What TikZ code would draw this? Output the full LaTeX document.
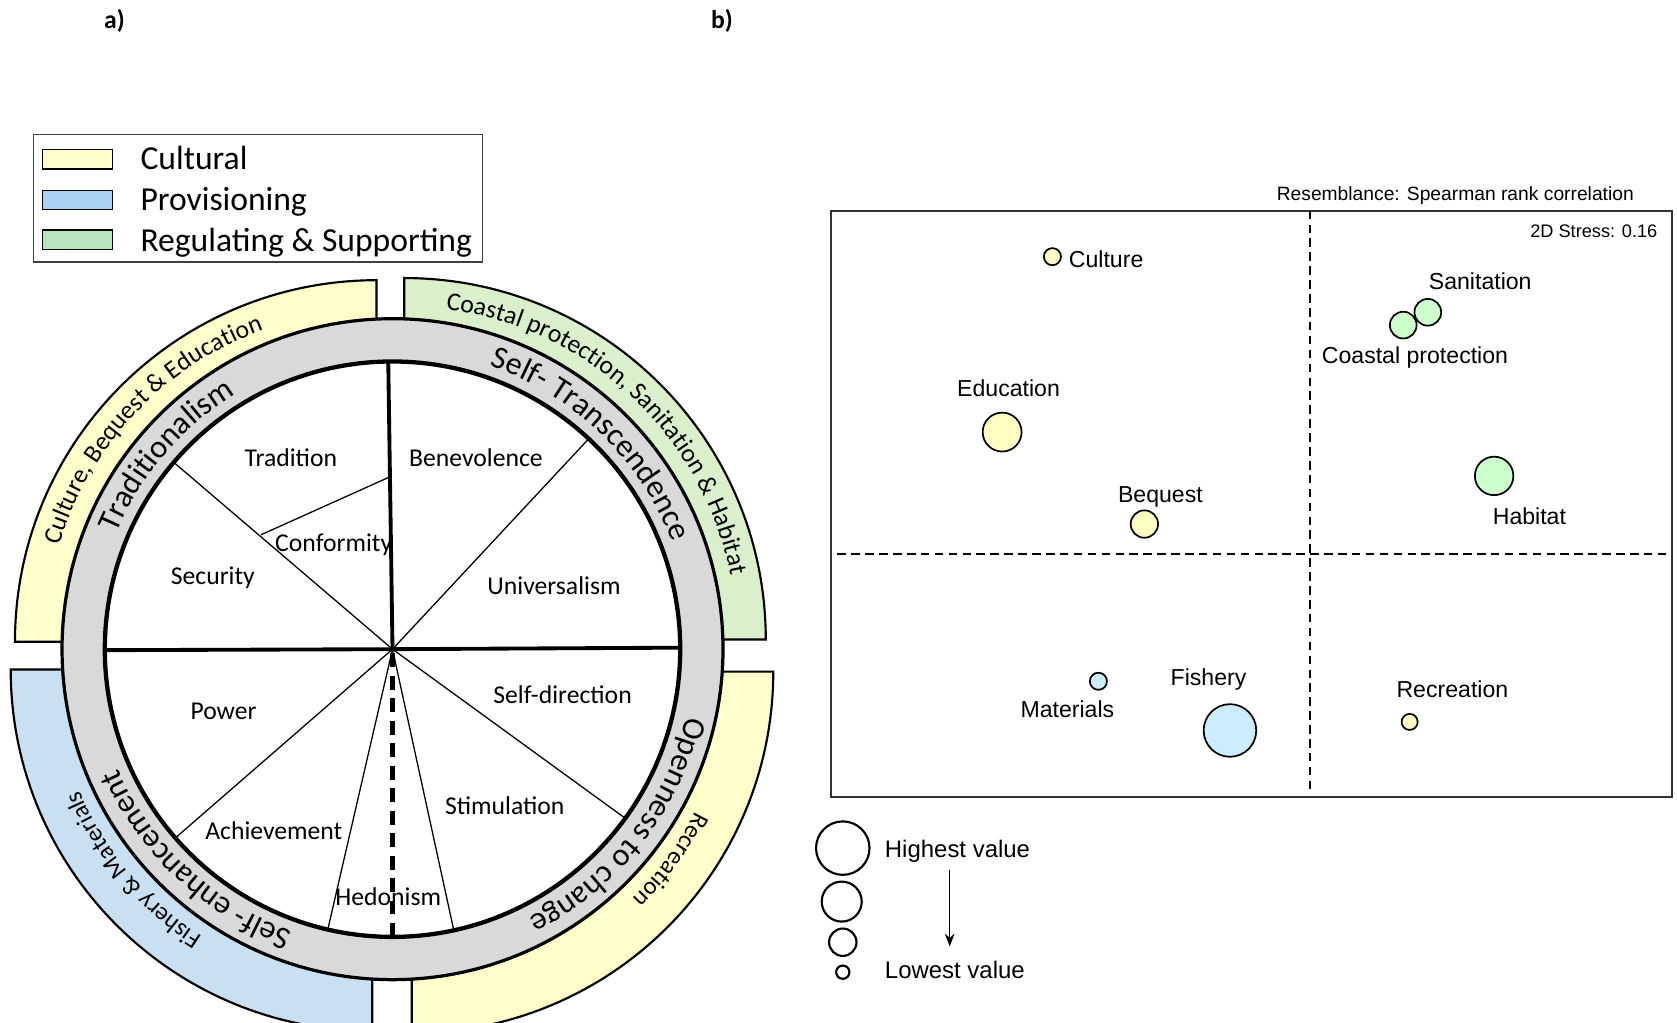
\documentclass[tikz,border=0pt]{standalone}
\usepackage{fontspec}
\setmainfont{Carlito}
\newfontfamily\plotfont{Liberation Sans}
\usepackage{xcolor}
\usepackage{tikz}
\usetikzlibrary{arrows.meta,decorations.text,positioning}
\definecolor{cultfill}{HTML}{FFFFCC}
\definecolor{provfill}{HTML}{A9D2F5}
\definecolor{regfill}{HTML}{B6E5BE}
\definecolor{provband}{HTML}{C9DFF2}
\definecolor{regband}{HTML}{DAF0CC}
\definecolor{ringgray}{HTML}{D9D9D9}
\definecolor{cultdot}{HTML}{FFFFC4}
\definecolor{regdot}{HTML}{CCFFCC}
\definecolor{provdot}{HTML}{CCECFF}
\newcommand{\ringfont}{\fontsize{15}{18}\selectfont}
\newcommand{\bandfont}{\fontsize{12}{14}\selectfont}
\newcommand{\lowbandfont}{\fontsize{11.5}{14}\selectfont}

\tikzset{
  band/.style={draw=black, line width=1pt},
  spoke/.style={line width=0.6pt},
  mainspoke/.style={line width=1.8pt},
  valtext/.style={font=\fontsize{12}{14}\selectfont, inner sep=0pt},
  legtext/.style={font=\fontsize{15.7}{18}\selectfont, anchor=west, inner sep=0pt},
  arctext/.style={decorate, decoration={text along path, text align=center, text={#1}}},
  dot/.style={circle, draw=black, line width=0.8pt, inner sep=0pt},
  ptlabel/.style={font=\plotfont\fontsize{10.8}{13}\selectfont, inner sep=0pt},
  quad/.style={dash pattern=on 4pt off 2.5pt, line width=1pt}
}

\begin{document}
\begin{tikzpicture}[x=0.5pt,y=0.5pt]
\useasboundingbox (0,0) rectangle (1568,956);
\clip (0,0) rectangle (1568,956);

%========================
% panel letters
%========================
\node[font=\bfseries\fontsize{12}{14}\selectfont] (pa) at (107,936) {a)};
\node[font=\bfseries\fontsize{12}{14}\selectfont] (pb) at (675,936) {b)};

%========================
% legend
%========================
\draw[draw=black!75, line width=0.6pt] (31,830) rectangle (451,711);
\foreach \y/\col in {807/cultfill, 769/provfill, 732/regfill}
{
    \draw[fill=\col, line width=0.6pt] (40,\y+9) rectangle (105,\y-9);
}
\node[legtext] (legcult) at (131,808) {Cultural};
\node[legtext] (legprov) at (131,767) {Provisioning};
\node[legtext] (legreg) at (131,729) {Regulating \& Supporting};

%========================
% service bands
%========================
\coordinate (W) at (367,349);
\coordinate (TL) at (352,356);
\coordinate (TR) at (378,358);
\coordinate (BL) at (348,330);
\coordinate (BR) at (385,328);

\foreach \c/\a/\col in {TL/90/cultfill, TR/0/regband, BL/180/provband, BR/270/cultfill}
{
    \filldraw[band, fill=\col] (\c) ++(\a:280) -- ++(\a:58)
    arc[start angle=\a, delta angle=90, radius=338]
    -- ++({\a+270}:58)
    arc[start angle=\a+90, delta angle=-90, radius=280] -- cycle;
}

%========================
% ring and wheel
%========================
\filldraw[fill=ringgray, line width=1.5pt] (W) circle (309);
\filldraw[fill=white, line width=2pt] (W) circle (269);

% thin spokes
\foreach \a in {139.5,47,-36,-77.7,-103,221}
{
    \draw[spoke] (W) -- ++(\a:268);
}
\path (W) ++(139:163) coordinate (confa);
\path (W) ++(91:161) coordinate (confb);
\draw[spoke] (confa) -- (confb);

% thick spokes
\draw[mainspoke] (W) -- ++(90.85:268);
\draw[mainspoke] (W) -- ++(180.2:269);
\draw[mainspoke] (W) -- ++(0.3:268);
\draw[line width=2pt, dash pattern=on 6.5pt off 4pt] (W) ++(0,-4) -- ++(0,-264);

% values
\node[valtext] (tradition) at (272,528) {Tradition};
\node[valtext] (benevolence) at (445,528) {Benevolence};
\node[valtext] (conformity) at (312,447) {Conformity};
\node[valtext] (security) at (199,416) {Security};
\node[valtext] (universalism) at (518,408) {Universalism};
\node[valtext] (power) at (209,291) {Power};
\node[valtext] (selfdir) at (526,306) {Self-direction};
\node[valtext] (achievement) at (256,179) {Achievement};
\node[valtext] (stimulation) at (472,203) {Stimulation};
\node[valtext] (hedonism) at (363,118) {Hedonism};

% ring labels
\path[arctext={|\ringfont|Traditionalism}] (W) ++(184.5:280) arc[start angle=184.5, delta angle=-90, radius=280];
\path[arctext={|\ringfont|Self- Transcendence}] (W) ++(91:280) arc[start angle=91, delta angle=-90, radius=280];
\path[arctext={|\ringfont|Self- enhancement}] (W) ++(272:280) arc[start angle=272, delta angle=-90, radius=280];
\path[arctext={|\ringfont|Openness to change}] (W) ++(7:282) arc[start angle=7, delta angle=-90, radius=282];

% band labels
\path[arctext={|\bandfont|Culture, Bequest {\&} Education}] (TL) ++(181.5:310) arc[start angle=181.5, delta angle=-90, radius=310];
\path[arctext={|\bandfont|Coastal protection, Sanitation {\&} Habitat}] (TR) ++(92:311) arc[start angle=92, delta angle=-90, radius=311];
\path[arctext={|\lowbandfont|Fishery {\&} Materials}] (BL) ++(265:296) arc[start angle=265, delta angle=-90, radius=296];
\path[arctext={|\lowbandfont|Recreation}] (BR) ++(9:296) arc[start angle=9, delta angle=-90, radius=296];

%========================
% ordination plot
%========================
\draw[draw=black!80, line width=0.8pt] (777,759) rectangle (1563,211);
\draw[quad] (1225,759) -- (1225,216);
\draw[quad] (783,438) -- (1563,438);

\node[font=\plotfont\fontsize{9}{11}\selectfont, anchor=east, inner sep=0pt] (resem) at (1528,773) {Resemblance: Spearman rank correlation};
\node[font=\plotfont\fontsize{8.5}{10}\selectfont, anchor=east, inner sep=0pt] (stress) at (1550,740) {2D Stress: 0.16};

% points
\node[dot, fill=cultdot, minimum size=8pt] (culture) at (984,716) {};
\node[dot, fill=regdot, minimum size=12.5pt] (sanitation) at (1335,664) {};
\node[dot, fill=regdot, minimum size=12.5pt] (coastal) at (1312,652) {};
\node[dot, fill=cultdot, minimum size=18.2pt] (education) at (937,552) {};
\node[dot, fill=regdot, minimum size=18pt] (habitat) at (1397,511) {};
\node[dot, fill=cultdot, minimum size=12.8pt] (bequest) at (1070,466) {};
\node[dot, fill=provdot, minimum size=8pt] (materials) at (1027,319) {};
\node[dot, fill=provdot, minimum size=24.6pt] (fishery) at (1150,273) {};
\node[dot, fill=cultdot, minimum size=7.5pt] (recreation) at (1318,281) {};

% point labels
\node[ptlabel, anchor=west] (culturelab) at (999,714) {Culture};
\node[ptlabel] (sanitationlab) at (1384,693) {Sanitation};
\node[ptlabel] (coastallab) at (1323,622) {Coastal protection};
\node[ptlabel] (educationlab) at (943,593) {Education};
\node[ptlabel] (habitatlab) at (1430,473) {Habitat};
\node[ptlabel] (bequestlab) at (1085,491) {Bequest};
\node[ptlabel] (materialslab) at (998,293) {Materials};
\node[ptlabel] (fisherylab) at (1130,321) {Fishery};
\node[ptlabel] (recreationlab) at (1358,312) {Recreation};

%========================
% size legend
%========================
\node[dot, fill=white, line width=1pt, minimum size=25pt] (szhigh) at (788,163) {};
\node[dot, fill=white, line width=1pt, minimum size=18.7pt] (szmid) at (787,113) {};
\node[dot, fill=white, line width=1pt, minimum size=12.8pt] (szlow) at (788,75) {};
\node[dot, fill=white, line width=1pt, minimum size=6.2pt] (szmin) at (788,47) {};

\node[font=\plotfont\fontsize{11.2}{13}\selectfont, anchor=west, inner sep=0pt] (highlab) at (827,160) {Highest value};
\node[font=\plotfont\fontsize{11.2}{13}\selectfont, anchor=west, inner sep=0pt] (lowlab) at (827,49) {Lowest value};

\coordinate (arrtop) at (888,143);
\coordinate (arrbot) at (888,71);
\draw[line width=0.7pt, -{Stealth[length=6pt,width=4.5pt]}] (arrtop) -- (arrbot);
\end{tikzpicture}
\end{document}
